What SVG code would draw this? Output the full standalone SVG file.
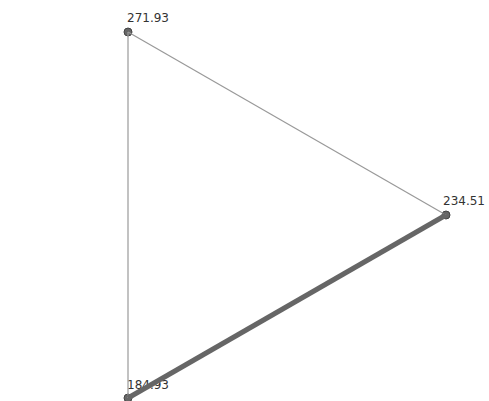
<svg xmlns="http://www.w3.org/2000/svg" width="489" height="401" viewBox="0 0 489 401">
<style>
.node circle{fill:#666;stroke:#444;stroke-width:1}
.node text{font-family:"DejaVu Sans","Liberation Sans",sans-serif;font-size:12px;fill:#333}
.edge{stroke:#999;stroke-width:1.2;fill:none}
.edge.heavy{stroke:#666;stroke-width:5}
</style>
<rect width="489" height="401" fill="#fff"/>
<g id="node-top" class="node"><circle cx="128" cy="32" r="4"/><text x="127" y="22">271.93</text></g>
<g id="node-right" class="node"><circle cx="446" cy="215" r="4"/><text x="443" y="205">234.51</text></g>
<g id="node-bottom" class="node"><circle cx="128" cy="398" r="4"/><text x="127" y="389">184.93</text></g>
<g id="connectors">
<line class="edge" x1="128" y1="32" x2="446" y2="215"/>
<line class="edge" x1="128" y1="32" x2="128" y2="398"/>
<line class="edge heavy" x1="128" y1="398" x2="446" y2="215"/>
</g>
</svg>
